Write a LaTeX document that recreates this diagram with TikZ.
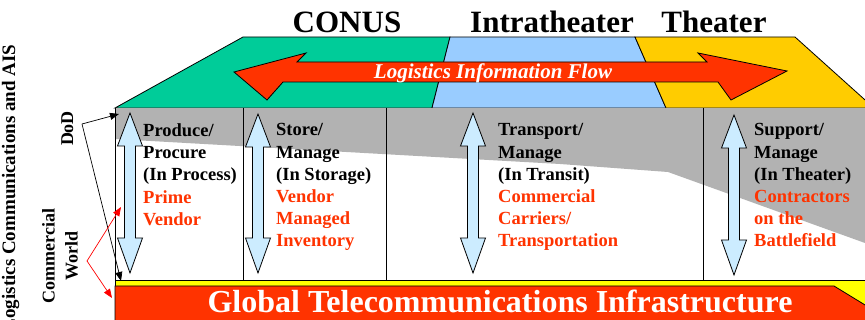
\documentclass[tikz,border=0pt]{standalone}
\usepackage{fontspec}
\setmainfont{Liberation Serif}
\usetikzlibrary{arrows.meta}
\definecolor{conusgreen}{RGB}{0,204,153}
\definecolor{intrablue}{RGB}{153,204,255}
\definecolor{theateryellow}{RGB}{255,204,0}
\definecolor{flowred}{RGB}{255,51,0}
\definecolor{bandgray}{RGB}{178,178,178}
\definecolor{bandyellow}{RGB}{255,255,0}
\definecolor{arrowblue}{RGB}{204,236,255}
\newcommand{\redtxt}[1]{\textcolor{flowred}{#1}}

\begin{document}
\begin{tikzpicture}[x=1pt,y=-1pt,
    outline/.style={draw=black, line width=0.8pt},
    title/.style={font=\fontsize{31}{31}\selectfont\bfseries, anchor=base, inner sep=0pt},
    coltext/.style={font=\fontsize{18.5}{22.2}\selectfont\bfseries, align=left, anchor=north west, inner sep=0pt},
    sidetext/.style={font=\fontsize{18}{23}\selectfont\bfseries, align=center, rotate=90, inner sep=0pt},
    pointer/.style={line width=0.7pt, -{Triangle[length=9pt,width=7pt]}}]
    \useasboundingbox (0,0) rectangle (865,320);
    \clip (0,0) rectangle (865,320);

    % echelons
    \filldraw[outline, fill=conusgreen] (243,37) -- (450,37) -- (432,108) -- (115,108) -- cycle;
    \filldraw[outline, fill=intrablue] (450,37) -- (635,37) -- (666,108) -- (432,108) -- cycle;
    \filldraw[outline, fill=theateryellow] (635,37) -- (795,37) -- (874,108) -- (666,108) -- cycle;
    \node[title] (conus) at (347,33) {CONUS};
    \node[title] (intra) at (552,33) {Intratheater};
    \node[title] (theater) at (714,33) {Theater};

    % information flow
    \filldraw[outline, fill=flowred] (234,72) -- (306,53) -- (297,62) -- (707,62) -- (698,53) -- (787,71)
        -- (731,100) -- (718,82) -- (283,82) -- (267,100) -- cycle;
    \node[font=\fontsize{21}{21}\selectfont\bfseries\itshape, text=white, anchor=base, inner sep=0pt]
        (flow) at (493,79) {Logistics Information Flow};

    % DoD / commercial panel
    \fill[white] (115,108) rectangle (865,280);
    \fill[bandgray] (115,108) -- (865,108) -- (865,243) -- (668,172) -- (560,164) -- (115,139) -- cycle;
    \draw[outline] (115,108) -- (115,280) -- (865,280);
    \foreach \cx in {243,386,703}
        \draw[outline] (\cx,108) -- (\cx,280);

    % two-way flows
    \foreach \ax/\at/\ab in {130/113/273, 258/114/273, 473/113/273, 734/115/275}
        \filldraw[outline, fill=arrowblue] (\ax,\at) -- (\ax+12.5,\at+33) -- (\ax+5.5,\at+33)
            -- (\ax+5.5,\ab-35) -- (\ax+12.5,\ab-35) -- (\ax,\ab) -- (\ax-12.5,\ab-35)
            -- (\ax-5.5,\ab-35) -- (\ax-5.5,\at+33) -- (\ax-12.5,\at+33) -- cycle;

    \node[coltext] (produce) at (143,123.5) {Produce/\\Procure\\(In Process)\\\redtxt{Prime}\\\redtxt{Vendor}};
    \node[coltext] (store) at (276,123.5) {Store/\\Manage\\(In Storage)\\\redtxt{Vendor}\\\redtxt{Managed}\\\redtxt{Inventory}};
    \node[coltext] (transport) at (498,123.5) {Transport/\\Manage\\(In Transit)\\\redtxt{Commercial}\\\redtxt{Carriers/}\\\redtxt{Transportation}};
    \node[coltext] (support) at (754,123.5) {Support/\\Manage\\(In Theater)\\\redtxt{Contractors}\\\redtxt{on the}\\\redtxt{Battlefield}};

    % telecom band
    \filldraw[outline, fill=bandyellow] (115,280) rectangle (870,325);
    \filldraw[outline, fill=flowred] (115,286) -- (834,286) -- (870,308) -- (870,325) -- (115,325) -- cycle;
    \node[font=\fontsize{32}{32}\selectfont\bfseries, text=white, anchor=base, inner sep=0pt]
        (telecom) at (500,313) {Global Telecommunications Infrastructure};

    % side labels
    \node[sidetext, font=\fontsize{19}{19}\selectfont\bfseries, anchor=base] (ais) at (15,188) {Logistics Communications and AIS};
    \node[sidetext, anchor=base] (dod) at (73,128.5) {DoD};
    \node[sidetext] (commercial) at (60,256) {Commercial\\World};

    \coordinate (dodfoot) at (82,124);
    \coordinate (dodtop) at (119,114);
    \coordinate (dodbot) at (121,281);
    \coordinate (comfoot) at (87,261);
    \coordinate (comtop) at (121,207);
    \coordinate (combot) at (112,298);
    \draw[pointer] (dodfoot) -- (dodtop);
    \draw[pointer] (dodfoot) -- (dodbot);
    \draw[pointer, red] (comfoot) -- (comtop);
    \draw[pointer, red] (comfoot) -- (combot);
\end{tikzpicture}
\end{document}
